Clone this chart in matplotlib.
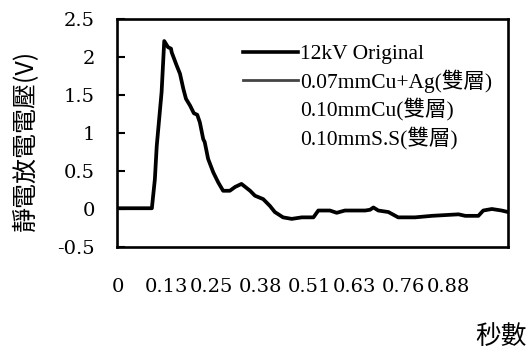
import matplotlib
matplotlib.use("Agg")
import matplotlib.pyplot as plt
from matplotlib.lines import Line2D

# ---- data ----
time_s = [0.0, 0.090, 0.098, 0.103, 0.116, 0.123, 0.133, 0.141, 0.143, 0.156,
          0.165, 0.174, 0.181, 0.192, 0.202, 0.211, 0.218, 0.227, 0.231, 0.240,
          0.254, 0.267, 0.280, 0.298, 0.312, 0.329, 0.352, 0.365, 0.387, 0.405,
          0.418, 0.440, 0.463, 0.490, 0.521, 0.534, 0.565, 0.583, 0.605, 0.659,
          0.672, 0.681, 0.694, 0.721, 0.747, 0.792, 0.837, 0.908, 0.926, 0.961,
          0.974, 0.997, 1.023, 1.040]
voltage_12kv = [0.01, 0.01, 0.39, 0.83, 1.54, 2.21, 2.13, 2.11, 2.06, 1.89,
                1.78, 1.58, 1.45, 1.36, 1.26, 1.24, 1.14, 0.92, 0.88, 0.66,
                0.48, 0.35, 0.24, 0.24, 0.29, 0.33, 0.24, 0.175, 0.13, 0.04,
                -0.04, -0.11, -0.13, -0.11, -0.11, -0.02, -0.02, -0.05, -0.02, -0.02,
                -0.01, 0.02, -0.02, -0.04, -0.11, -0.11, -0.09, -0.07, -0.09, -0.09,
                -0.02, 0.0, -0.02, -0.04]

series_labels = ["12kV Original", "0.07mmCu+Ag(雙層)", "0.10mmCu(雙層)", "0.10mmS.S(雙層)"]
x_tick_values = [0, 0.13, 0.25, 0.38, 0.51, 0.63, 0.76, 0.88]
x_tick_labels = ["0", "0.13", "0.25", "0.38", "0.51", "0.63", "0.76", "0.88"]
y_ticks = [-0.5, 0, 0.5, 1, 1.5, 2, 2.5]
y_tick_labels = ["-0.5", "0", "0.5", "1", "1.5", "2", "2.5"]
y_label = "靜電放電電壓(V)"
x_label = "秒數"

# ---- figure ----
W, H = 531, 354
fig = plt.figure(figsize=(W / 100, H / 100), dpi=100)
ax = fig.add_axes([117 / W, 1 - 247 / H, (508 - 117) / W, (247 - 19) / H])

serif = ["Liberation Serif", "Noto Sans CJK TC"]
tickfont = ["DejaVu Serif"]
cjk = ["Noto Sans CJK TC", "DejaVu Sans"]

ax.plot(time_s, voltage_12kv, color="black", lw=2.7, solid_joinstyle="round")

ax.set_xlim(-0.003, 1.04)
ax.set_ylim(-0.5, 2.5)
for s in ax.spines.values():
    s.set_linewidth(1.9)

ax.set_xticks(x_tick_values)
ax.set_xticklabels(x_tick_labels, fontfamily=tickfont, fontsize=14)
ax.tick_params(axis="x", length=0, pad=22)
ax.set_yticks(y_ticks)
ax.set_yticklabels(y_tick_labels, fontfamily=tickfont, fontsize=14)
ax.tick_params(axis="y", direction="in", length=6, width=1.5, pad=16)

# legend
handles = [
    Line2D([], [], color="black", lw=2.6),
    Line2D([], [], color="#444444", lw=2.0),
    Line2D([], [], color="white", lw=1.0),
    Line2D([], [], color="white", lw=1.0),
]
leg = ax.legend(handles, series_labels, loc="upper left",
                bbox_to_anchor=(243 / W, 1 - 44 / H), bbox_transform=fig.transFigure,
                frameon=False, borderpad=0, borderaxespad=0, handlelength=2.56,
                handletextpad=0.08, labelspacing=0.24,
                prop={"family": serif, "size": 15.5})

fig.text(26 / W, 1 - 140 / H, y_label, rotation=90, ha="center", va="center",
         fontsize=18, family=cjk)
fig.text(501 / W, 1 - 337 / H, x_label, ha="center", va="center",
         fontsize=18.5, family=cjk)

fig.savefig("out.png", dpi=100)
